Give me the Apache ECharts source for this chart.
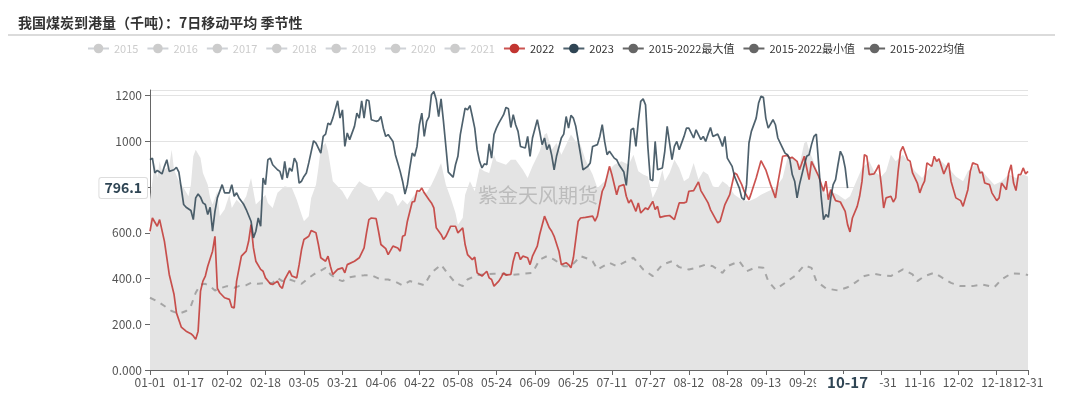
<!DOCTYPE html>
<html>
<head>
<meta charset="utf-8">
<script src="https://cdn.jsdelivr.net/npm/echarts@6/dist/echarts.min.js"></script>
<style>
html,body{margin:0;padding:0;background:#fff;}
#chart{width:1080px;height:408px;}
</style>
</head>
<body>
<div id="chart"></div>
<script>
// ---- categories: MM-DD of a 366-day year ----
const monthLengths = [31,29,31,30,31,30,31,31,30,31,30,31];
const categories = [];
monthLengths.forEach((n, m) => { for (let d = 1; d <= n; d++) categories.push(String(m+1).padStart(2,'0') + '-' + String(d).padStart(2,'0')); });

const chartTitle = '我国煤炭到港量（千吨）：7日移动平均 季节性';
const hiddenYears = ['2015','2016','2017','2018','2019','2020','2021'];
const yTicks = [0, 200, 400, 600, 800, 1000, 1200];
const lastDayIndex2023 = 290;   // 10-17
const lastValue2023 = 796.1;

// values as [day-of-year index, value]
const y2022 = [[0,607],[1,665],[3,629],[4,658],[6,563],[8,418],[10,330],[11,250],[13,188],[15,170],[17,159],[18,149],[19,134],[20,170],[21,345],[22,389],[23,411],[24,454],[26,520],[27,585],[28,357],[29,338],[31,316],[33,309],[34,275],[35,272],[36,389],[38,498],[40,520],[41,563],[42,636],[43,534],[44,476],[46,440],[47,432],[48,403],[50,377],[51,374],[53,389],[54,367],[55,357],[56,396],[58,435],[59,411],[61,403],[62,461],[63,527],[64,571],[66,585],[67,610],[69,600],[70,549],[71,491],[73,476],[74,498],[75,454],[76,418],[78,440],[80,447],[81,425],[82,461],[85,476],[87,491],[89,534],[90,600],[91,658],
[92,665],[94,662],[95,607],[96,549],[98,531],[99,505],[101,542],[103,534],[104,520],[105,585],[106,590],[107,651],[109,735],[110,738],[111,785],[112,782],[113,796],[114,775],[116,745],[117,731],[118,709],[119,622],[121,593],[122,571],[123,585],[125,629],[127,629],[128,600],[130,622],[131,549],[132,505],[134,483],[135,494],[136,425],[138,411],[140,432],[141,403],[142,396],[143,367],[145,389],[146,406],[147,425],[148,415],[150,418],[151,476],[152,513],[153,513],[154,483],[155,498],[157,491],[158,461],[159,498],[161,542],[162,593],[164,673],[166,622],[167,607],[168,585],[170,520],[171,461],[173,469],[174,461],[175,447],[176,491],[178,651],[179,665],[181,668],
[184,673],[185,651],[186,673],[188,782],[189,804],[191,891],[192,855],[194,767],[195,804],[197,811],[198,760],[199,731],[200,745],[202,694],[203,731],[204,687],[206,709],[207,702],[209,738],[210,702],[211,716],[212,668],[214,673],[216,676],[218,658],[220,731],[222,731],[223,735],[224,782],[226,785],[228,823],[229,785],[230,767],[232,731],[233,702],[236,644],[237,651],[239,724],[241,767],[243,862],[244,855],[246,811],[247,782],[249,745],[250,775],[252,840],[254,916],[256,876],[258,811],[260,753],[261,818],[263,935],[265,939],[266,927],[267,930],[269,913],[270,876],[271,906],[272,935],
[274,833],[275,913],[276,891],[278,847],[280,782],[281,826],[282,745],[283,789],[285,741],[287,735],[289,694],[290,636],[291,604],[292,665],[294,716],[295,760],[296,826],[297,942],[298,935],[299,855],[301,858],[302,876],[303,898],[304,811],[305,709],[306,753],[308,760],[309,735],[310,753],[311,869],[312,957],[313,978],[315,920],[316,913],[317,862],[319,818],[320,775],[321,804],[322,826],[323,906],[325,891],[326,935],[327,913],[328,924],[330,858],[332,906],[333,826],[335,753],[337,741],[338,716],[340,789],[341,869],[342,906],[344,898],[345,862],[346,866],[347,818],[349,811],[350,775],[352,741],[353,753],[354,818],[355,804],[356,789],[357,862],[358,898],[359,818],[360,785],[361,855],[362,855],[363,884],[364,858],[365,869]];

const y2023 = [[0,920],[1,927],[2,862],[3,873],[4,866],[5,858],[6,891],[7,920],[8,869],[10,876],[11,887],[12,866],[13,796],[14,724],[15,712],[17,698],[18,658],[19,753],[20,770],[21,756],[22,731],[23,724],[24,680],[25,712],[26,607],[27,694],[28,753],[30,811],[31,775],[33,775],[34,811],[35,760],[36,775],[37,753],[39,724],[40,702],[42,651],[43,578],[44,607],[45,665],[46,629],[47,840],[48,811],[49,920],[50,927],[51,898],[53,876],[54,869],[55,833],[56,913],[57,840],[58,884],[59,869],[60,927],[61,906],[62,818],[63,826],[64,847],[65,862],[66,906],[68,1003],[69,993],[71,949],[72,1022],[73,1032],[74,1080],[75,1073],[76,1102],[78,1178],[79,1102],[80,1138],[81,978],[82,1037],[83,1008],[85,1066],[86,1124],[87,1102],[88,1178],[89,1102],[90,1182],[91,1178],
[92,1095],[94,1088],[95,1091],[96,1109],[97,1058],[98,1022],[99,1030],[101,1000],[102,942],[103,906],[104,869],[105,826],[106,770],[107,811],[108,884],[109,949],[110,935],[111,978],[112,1073],[113,1124],[114,1022],[115,1088],[116,1109],[117,1204],[118,1218],[119,1182],[120,1109],[121,1186],[122,1088],[123,978],[124,866],[125,855],[126,843],[127,898],[128,935],[129,1030],[131,1146],[132,1138],[133,1157],[134,1109],[135,1058],[136,964],[137,913],[138,884],[139,902],[140,898],[141,989],[142,927],[143,1030],[144,1058],[145,1080],[147,1117],[148,1149],[149,1143],[150,1061],[151,1117],[152,1073],[153,1044],[154,978],[156,971],[157,1022],[158,935],[159,1015],[161,1095],[162,1044],[163,986],[164,1015],[165,964],[166,986],[167,939],[168,876],[169,935],[171,1015],[172,1032],[173,1109],[174,1058],[175,1114],[176,1102],[177,1066],[179,942],[180,876],[182,891],
[183,906],[184,978],[186,986],[187,1022],[188,1073],[189,1000],[190,942],[191,957],[193,927],[194,920],[195,898],[197,866],[198,808],[199,920],[200,1051],[201,1058],[202,978],[203,1088],[204,1175],[205,1186],[206,1160],[207,971],[208,833],[209,828],[210,1000],[211,876],[213,884],[214,957],[215,1066],[217,920],[218,978],[219,1000],[220,964],[222,1022],[223,1058],[224,1058],[226,1015],[227,1051],[229,1008],[230,1022],[231,1000],[232,1032],[233,1061],[234,1022],[236,1032],[237,1008],[238,978],[239,1022],[240,927],[242,891],[243,847],[245,796],[246,753],[247,745],[248,811],[249,993],[250,1044],[252,1102],[253,1168],[254,1197],[255,1193],[256,1102],[257,1058],[259,1095],[260,1073],[261,1015],[263,971],[264,949],[265,942],[266,920],[267,855],[268,826],[269,753],[270,811],[272,898],[273,935],
[274,942],[275,986],[276,1022],[277,1032],[278,898],[279,760],[280,658],[281,680],[282,668],[283,753],[284,811],[285,833],[286,898],[287,957],[288,935],[289,884],[290,796.1]];

const maxValues = [[0,745],[2,907],[3,840],[4,913],[5,869],[8,891],[9,964],[10,876],[12,826],[14,796],[16,760],[17,811],[18,935],[19,964],[21,927],[22,862],[24,811],[25,753],[26,724],[28,782],[29,673],[31,702],[33,767],[34,709],[36,745],[38,724],[40,760],[42,840],[43,782],[44,724],[46,745],[48,767],[49,731],[51,709],[53,775],[56,804],[59,796],[61,745],[63,680],[64,651],[66,673],[67,753],[69,811],[70,884],[71,971],[73,993],[74,957],[76,826],[78,804],[80,782],[82,745],[84,782],[87,826],[89,811],[92,796],[95,738],[98,782],[101,767],[103,716],[105,745],[107,724],[110,767],[112,782],[115,775],[117,811],[119,855],[121,906],[123,811],[125,753],[127,687],[128,636],[130,665],[131,767],[133,826],[135,782],[137,884],[139,869],[141,862],[143,942],[144,913],[146,906],[148,898],[150,920],[152,920],[155,876],[157,840],[159,891],[162,957],[164,1030],[165,1037],[167,964],[169,993],[171,942],[173,986],[175,1030],[177,1000],[179,986],[181,920],[184,855],[186,796],[189,826],[191,876],[193,898],[196,913],[199,898],[201,942],[203,869],[205,855],[207,847],[209,753],[211,796],[213,876],[214,826],[216,862],[218,920],[220,884],[222,826],[224,840],[226,906],[228,833],[230,869],[232,855],[234,804],[236,796],[238,826],[240,811],[243,767],[246,745],[249,738],[252,753],[254,767],[257,782],[260,796],[263,840],[265,927],[267,935],[270,898],[272,993],[273,1000],[274,960],[277,884],[279,804],[281,767],[283,782],[286,767],[289,745],[291,760],[293,811],[296,884],[299,913],[301,869],[304,847],[306,869],[308,942],[310,913],[313,942],[315,913],[318,869],[321,840],[324,884],[326,920],[329,913],[332,884],[335,847],[338,826],[340,869],[343,898],[346,869],[349,833],[351,811],[354,826],[357,855],[360,840],[363,855],[365,847]];

const minValues = [];

const meanValues = [[0,316],[3,301],[6,280],[9,258],[12,246],[15,258],[17,280],[19,338],[21,374],[23,377],[25,367],[27,348],[29,357],[32,367],[35,360],[37,367],[40,371],[42,381],[45,377],[48,381],[51,381],[53,403],[55,389],[58,396],[60,389],[63,377],[66,403],[69,425],[71,435],[73,447],[75,418],[78,396],[80,389],[83,406],[86,411],[89,414],[92,415],[96,396],[99,396],[102,386],[105,370],[108,389],[112,377],[114,371],[117,425],[121,461],[124,418],[127,381],[130,367],[132,396],[136,415],[139,418],[143,421],[146,421],[150,415],[155,421],[159,425],[162,483],[165,498],[168,483],[172,454],[175,454],[179,498],[182,487],[184,476],[186,440],[191,469],[194,454],[198,476],[201,491],[205,440],[209,411],[213,461],[217,476],[220,450],[224,440],[227,447],[231,461],[234,454],[238,425],[240,454],[245,476],[248,432],[252,450],[255,447],[257,389],[260,352],[264,381],[268,411],[272,458],[275,447],[277,389],[281,357],[286,348],[290,362],[293,381],[297,411],[301,421],[304,415],[308,411],[313,440],[317,418],[319,389],[322,411],[326,425],[329,406],[333,381],[337,367],[342,367],[346,374],[351,362],[354,396],[358,422],[363,421],[365,415]];

const chart = echarts.init(document.getElementById('chart'));
const FONT = '"Noto Sans CJK SC", "Noto Sans", sans-serif';
const legendGray = {itemStyle:{color:'#666'}, lineStyle:{color:'#666', opacity:1, width:2, type:'solid'}};

const series = [];
hiddenYears.forEach(y => series.push({name:y, type:'line', data:[], symbol:'circle', showSymbol:false, color:'#ccc'}));
series.push({name:'2015-2022最大值', type:'line', data:maxValues, symbol:'circle', showSymbol:false, color:'#666',
  lineStyle:{width:0, opacity:0}, areaStyle:{color:'#e4e4e4', opacity:1}, z:1, silent:true});
series.push({name:'2015-2022最小值', type:'line', data:minValues, symbol:'circle', showSymbol:false, color:'#666', lineStyle:{opacity:0}});
series.push({name:'2015-2022均值', type:'line', data:meanValues, symbol:'circle', showSymbol:false, color:'#666',
  lineStyle:{color:'#a5a5a5', width:2, type:[6,6]}, z:3});
series.push({name:'2022', type:'line', data:y2022, symbol:'circle', showSymbol:false, color:'#c23531',
  lineStyle:{width:1.7, opacity:0.85}, z:4});
series.push({name:'2023', type:'line', data:y2023, symbol:'circle', showSymbol:false, color:'#2f4554',
  lineStyle:{width:1.7, opacity:0.85}, z:5});

const legendData = hiddenYears.map(y => ({name:y}))
  .concat([{name:'2022'},{name:'2023'},
    Object.assign({name:'2015-2022最大值'}, legendGray),
    Object.assign({name:'2015-2022最小值'}, legendGray),
    Object.assign({name:'2015-2022均值'}, legendGray)]);
const selected = {}; hiddenYears.forEach(y => selected[y] = false);

chart.setOption({
  animation:false,
  backgroundColor:'#fff',
  title:{text:chartTitle, left:13, top:11, textStyle:{fontSize:14, fontWeight:'bold', color:'#333', fontFamily:FONT}},
  graphic:[
    {type:'line', shape:{x1:8, y1:35, x2:1055, y2:35}, style:{stroke:'#cfcfcf', lineWidth:1.5}, silent:true},
    {type:'text', left:478, top:185, silent:true, z:10,
      style:{text:'紫金天风期货', font:'20px "Noto Sans CJK SC"', fill:'rgba(140,140,140,0.45)'}}
  ],
  legend:{data:legendData, selected:selected, left:82, top:38, itemGap:8, itemWidth:21, itemHeight:12,
    inactiveColor:'#ccc', textStyle:{fontSize:11, color:'#333', fontFamily:FONT}},
  grid:{left:150, right:52, top:90, bottom:38},
  xAxis:{type:'category', data:categories, boundaryGap:false,
    axisLine:{lineStyle:{color:'#666'}},
    axisTick:{interval:15, lineStyle:{color:'#666'}},
    axisLabel:{interval:15, showMaxLabel:true, color:'#555', fontSize:12, fontFamily:FONT, margin:6},
    axisPointer:{show:true, value:lastDayIndex2023, status:'show', type:'line', lineStyle:{opacity:0},
      label:{show:true, fontWeight:'bold', fontSize:15, color:'#2f4554', backgroundColor:'#fff', padding:[1,11], margin:4, fontFamily:FONT}}
  },
  yAxis:{type:'value', min:yTicks[0], max:1225, interval:200,
    axisLine:{show:true, lineStyle:{color:'#666'}},
    axisTick:{show:true, lineStyle:{color:'#666'}},
    splitLine:{lineStyle:{color:'#e3e3e3'}},
    axisLabel:{showMaxLabel:false, color:'#555', fontSize:12, fontFamily:FONT, formatter:v => Number(v).toPrecision(4)},
    axisPointer:{show:true, value:lastValue2023, status:'show', type:'line', lineStyle:{opacity:0},
      label:{show:true, fontWeight:'bold', fontSize:14, color:'#2f4554', backgroundColor:'#fff', borderColor:'#ddd', borderWidth:1, borderRadius:2, padding:[3,5], fontFamily:FONT,
        formatter:p => Number(p.value).toFixed(1)}}
  },
  series:series
});
</script>
</body>
</html>
